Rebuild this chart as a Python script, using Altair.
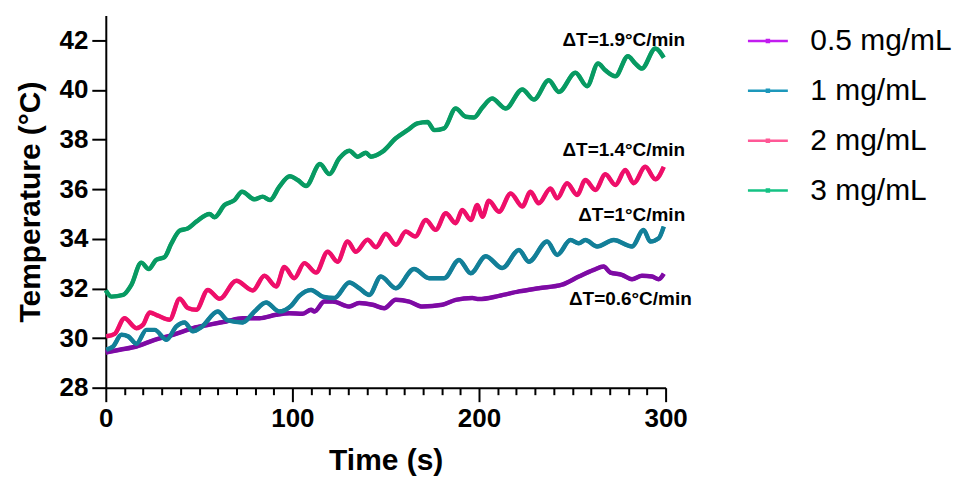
import altair as alt
import pandas as pd

FONT = "Liberation Sans"

series = ["0.5 mg/mL", "1 mg/mL", "2 mg/mL", "3 mg/mL"]
line_colors = ["#7d0ba3", "#137f98", "#ee0f6a", "#089a62"]
legend_colors = ["#c21cf0", "#1d98bb", "#ff5896", "#14c284"]

# 0.5 mg/mL
t_05 = [0, 7.5, 16.4, 26.2, 36, 46.7, 55.6, 64.5, 73.4, 82.4, 91.3, 98.4, 105.5, 110, 111.8,
        117.1, 121.6, 130.5, 135.8, 143, 149.2, 155.4, 162.6, 169.7, 180.4, 187.5, 196.4, 200,
        210.7, 221.4, 232, 244.5, 253.5, 261.5, 266.8, 270.4, 276.6, 282, 287.3, 292.7, 296.3, 299]
v_05 = [29.42, 29.53, 29.66, 29.93, 30.13, 30.4, 30.54, 30.67, 30.8, 30.8, 30.94, 31.0, 30.98, 31.14, 31.07,
        31.47, 31.47, 31.27, 31.41, 31.34, 31.2, 31.54, 31.47, 31.27, 31.34, 31.54, 31.61, 31.57,
        31.7, 31.88, 32.01, 32.15, 32.48, 32.75, 32.88, 32.64, 32.55, 32.37, 32.51, 32.48, 32.37, 32.59]

# 1 mg/mL
t_1 = [0.3, 3.9, 8.4, 12, 16.4, 21.8, 26.2, 32.5, 37.8, 42.2, 46.7, 51.2, 60, 65.4, 73.4, 79.7,
       85.9, 93, 99.3, 103.7, 110, 116.2, 122.5, 130.5, 135.8, 141.2, 147.4, 155.4, 165.2, 173.3,
       181.3, 189.3, 195.6, 203.6, 212.5, 221.4, 226.7, 236.5, 241.9, 249, 253.5, 257, 263.3,
       272.2, 282, 288.2, 291.8, 296.3, 299]
v_1 = [29.53, 29.66, 30.13, 30.07, 29.77, 30.33, 30.33, 29.93, 30.47, 30.63, 30.27, 30.44, 31.07, 30.71, 30.63, 31.07,
       31.43, 31.07, 31.3, 31.7, 31.94, 31.67, 31.61, 32.24, 32.01, 31.74, 32.48, 32.01, 32.78, 32.41,
       32.41, 33.15, 32.61, 33.3, 32.82, 33.55, 33.08, 33.89, 33.35, 33.95, 33.82, 33.95, 33.69,
       33.95, 33.69, 34.36, 33.89, 34.02, 34.49]

# 2 mg/mL
t_2 = [0.3, 4.8, 10, 16.4, 20, 23.5, 28, 34.2, 39.6, 44, 48.5, 54.7, 61, 69.9, 78.8, 85, 91.3,
       95.7, 101, 106.4, 112.7, 118.9, 124.2, 129.6, 134, 140.3, 144.8, 150.1, 155.5, 160.8, 165.8,
       171.5, 176.8, 182.2, 187.5, 191, 195.6, 199.1, 201.8, 205.3, 210.7, 217, 223.2, 227.6, 232,
       238.3, 241.9, 247.2, 252.6, 257, 262.4, 267.7, 273.1, 278.4, 282.9, 289.1, 294.5, 299]
v_2 = [30.07, 30.17, 30.8, 30.4, 30.54, 31.03, 30.9, 30.74, 31.58, 31.21, 31.14, 31.94, 31.58, 32.31, 31.92, 32.51, 32.08,
       32.86, 32.41, 33.02, 32.64, 33.48, 33.08, 33.89, 33.48, 33.96, 33.66, 34.2, 33.76, 34.29, 34.09,
       34.76, 34.36, 35.03, 34.63, 35.16, 34.76, 35.36, 34.89, 35.53, 35.09, 35.83, 35.3, 35.9, 35.43,
       36.03, 35.63, 36.24, 35.77, 36.37, 35.97, 36.6, 36.17, 36.77, 36.24, 36.9, 36.4, 36.9]

# 3 mg/mL
t_3 = [0, 3, 9.3, 13.7, 19, 23, 27, 31.5, 35, 39.6, 44, 48.5, 55.6, 58.3, 63.6, 69, 73, 79.7, 84,
       88, 93, 98.6, 102.8, 107.3, 114.8, 119.8, 125.1, 130.5, 135, 139.4, 142, 148.3, 155.4, 161.7,
       167, 172.4, 176, 181.3, 187.5, 192.9, 197.3, 201.8, 207, 214.3, 223.2, 229.4, 237.4, 242.8,
       251.7, 257.9, 263.8, 267.7, 273.1, 279.8, 283.8, 287.3, 294.5, 299]
v_3 = [31.92, 31.67, 31.74, 32.14, 33.04, 32.78, 33.15, 33.26, 33.79, 34.33, 34.42, 34.69, 35.0, 34.87, 35.36, 35.56, 35.9, 35.59, 35.7,
       35.56, 36.1, 36.52, 36.37, 36.13, 37.01, 36.61, 37.24, 37.55, 37.31, 37.47, 37.31, 37.51, 38.05, 38.38,
       38.65, 38.71, 38.38, 38.45, 39.25, 38.92, 38.89, 39.29, 39.65, 39.25, 40.02, 39.61, 40.39, 39.92,
       40.69, 40.15, 41.06, 40.79, 40.55, 41.36, 41.06, 40.86, 41.67, 41.3]

ann_text = ["ΔT=1.9°C/min", "ΔT=1.4°C/min", "ΔT=1°C/min", "ΔT=0.6°C/min"]
ann_time = [310.5, 310.5, 310.5, 314.0]
ann_temp = [42.0, 37.58, 34.96, 31.58]

y_ticks = [28, 30, 32, 34, 36, 38, 40, 42]
x_ticks = list(range(0, 301, 10))

rows = []
for name, ts, vs in zip(series, [t_05, t_1, t_2, t_3], [v_05, v_1, v_2, v_3]):
    for t, v in zip(ts, vs):
        rows.append({"series": name, "time": t, "temp": v})
df = pd.DataFrame(rows)
ann = pd.DataFrame({"label": ann_text, "time": ann_time, "temp": ann_temp})

x_scale = alt.Scale(domain=[0, 300], nice=False, zero=False)
y_scale = alt.Scale(domain=[28, 43], nice=False, zero=False)

x_axis = alt.Axis(values=x_ticks, labelExpr="datum.value % 100 === 0 ? datum.label : ''",
                  tickSize={"condition": {"test": "datum.value % 100 === 0", "value": 14}, "value": 7},
                  labelPadding=4, labelFlush=False, labelOverlap=False,
                  title="Time (s)", titlePadding=14, labelFontSize=26,
                  labelFontWeight="bold", titleFontSize=30, titleFontWeight="bold", grid=False)

y_axis = alt.Axis(values=y_ticks, title="Temperature (°C)", tickSize=14, labelPadding=4,
                  titlePadding=14, labelFontSize=26, labelFontWeight="bold",
                  titleFontSize=30, titleFontWeight="bold", grid=False)

X = alt.X("time:Q", scale=x_scale, axis=x_axis)
Y = alt.Y("temp:Q", scale=y_scale, axis=y_axis)

legend_layer = alt.Chart(df).mark_line(strokeWidth=4, interpolate="monotone").encode(
    x=X, y=Y,
    stroke=alt.Stroke("series:N", scale=alt.Scale(domain=series, range=legend_colors),
                      legend=alt.Legend(title=None, orient="none", legendX=642, legendY=4,
                                        symbolType="M-1,0H1M-0.05,-0.05H0.05V0.05H-0.05Z",
                                        symbolSize=1600, symbolStrokeWidth=2.5,
                                        labelFontSize=30, labelFont=FONT, labelColor="black",
                                        labelOffset=21, rowPadding=13, padding=0)),
)

main_layer = alt.Chart(df).mark_line(strokeWidth=4.5, interpolate="monotone").encode(
    x=X, y=Y,
    color=alt.Color("series:N", scale=alt.Scale(domain=series, range=line_colors), legend=None),
)

text_layer = alt.Chart(ann).mark_text(align="right", baseline="middle", font=FONT,
                                      fontWeight="bold", fontSize=19, color="black").encode(
    x=X, y=Y,
    text="label:N",
)

chart = alt.layer(legend_layer, main_layer, text_layer).properties(
    width=561, height=373,
    padding={"left": 7, "top": 7, "right": 0, "bottom": 0},
    background="white",
).configure_view(stroke=None).configure_axis(
    domainColor="black", domainWidth=2, tickColor="black", tickWidth=2,
    labelFont=FONT, titleFont=FONT, labelColor="black", titleColor="black",
)

chart.save("out.html", embed_options={"renderer": "svg", "actions": False})
